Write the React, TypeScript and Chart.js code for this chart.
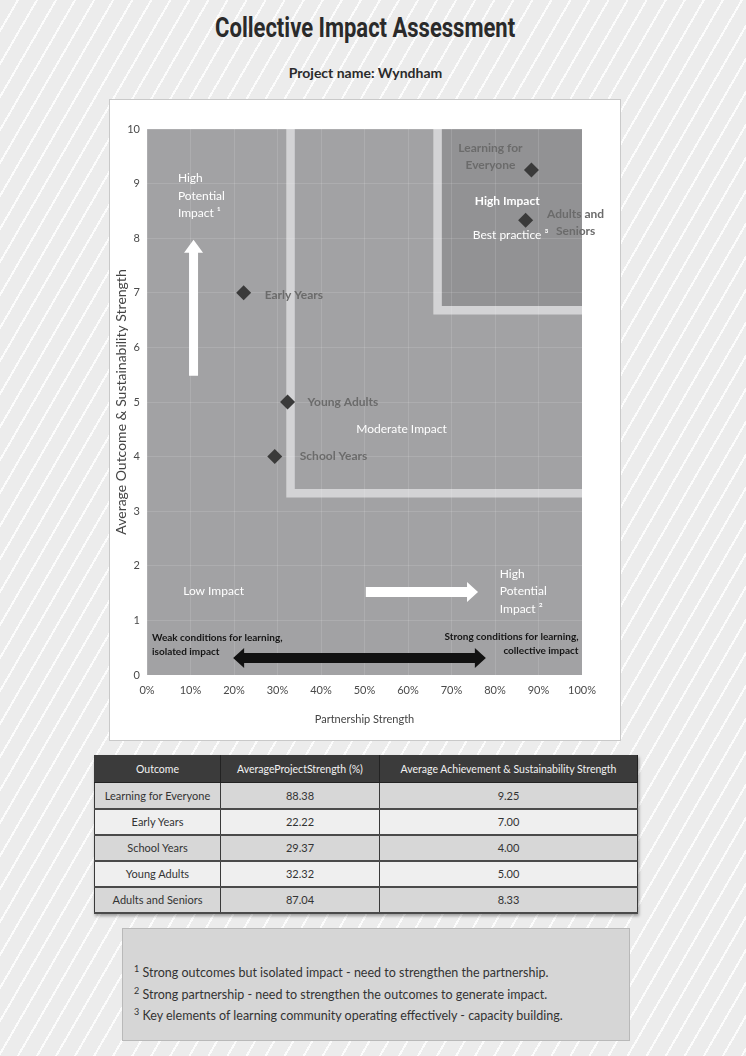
import React, { useEffect, useRef } from "react";
import { Chart, registerables } from "chart.js";

Chart.register(...registerables);

// ---------- data ----------
const OUTCOMES = ["Learning for Everyone", "Early Years", "School Years", "Young Adults", "Adults and Seniors"];
const PARTNERSHIP = [88.38, 22.22, 29.37, 32.32, 87.04];
const ACHIEVEMENT = [9.25, 7.0, 4.0, 5.0, 8.33];
const PARTNERSHIP_TEXT = ["88.38", "22.22", "29.37", "32.32", "87.04"];
const ACHIEVEMENT_TEXT = ["9.25", "7.00", "4.00", "5.00", "8.33"];
const X_TICK_LABELS = ["0%", "10%", "20%", "30%", "40%", "50%", "60%", "70%", "80%", "90%", "100%"];
const Y_TICK_LABELS = ["0", "1", "2", "3", "4", "5", "6", "7", "8", "9", "10"];
const TABLE_HEADERS = ["Outcome", "AverageProjectStrength (%)", "Average Achievement & Sustainability Strength"];
const FOOTNOTES = [
  "Strong outcomes but isolated impact - need to strengthen the partnership.",
  "Strong partnership - need to strengthen the outcomes to generate impact.",
  "Key elements of learning community operating effectively - capacity building.",
];

// zone thresholds (data units)
const MODERATE_X = 33.0;
const MODERATE_Y = 3.33;
const HIGH_X = 66.8;
const HIGH_Y = 6.68;

// ---------- layout / style ----------
const FONT = "Lato, 'Open Sans', sans-serif";
const PLOT_BG = "#a2a2a4";
const HIGH_BG = "#929294";
const BAND = "#d3d3d5";
const POINT_COLOR = "#3a3a3a";
const POINT_LABEL_COLOR = "#6b6b6b";

// point label placement: pixel offset from the point
const POINT_LABEL_LAYOUT = [
  { lines: ["Learning for", "Everyone"], dx: -41, dy: -22, align: "center" },
  { lines: ["Early Years"], dx: 21, dy: 2, align: "left" },
  { lines: ["School Years"], dx: 25, dy: 0, align: "left" },
  { lines: ["Young Adults"], dx: 20, dy: 0, align: "left" },
  { lines: ["Adults and", "Seniors"], dx: 50, dy: -6, align: "center" },
];

// zone texts: anchored in data units
const ZONE_TEXTS = [
  { lines: ["High", "Potential", "Impact \u00b9"], x: 7.1, y: 9.1, align: "left", weight: "normal", color: "#ffffff", size: 12, lh: 17.5 },
  { lines: ["High Impact"], x: 82.8, y: 8.68, align: "center", weight: "bold", color: "#ffffff", size: 12, lh: 17 },
  { lines: ["Best practice \u00b3"], x: 83.6, y: 8.06, align: "center", weight: "normal", color: "#ffffff", size: 12, lh: 17 },
  { lines: ["Moderate Impact"], x: 58.5, y: 4.5, align: "center", weight: "normal", color: "#ffffff", size: 12, lh: 17 },
  { lines: ["Low Impact"], x: 15.3, y: 1.54, align: "center", weight: "normal", color: "#ffffff", size: 12, lh: 17 },
  { lines: ["High", "Potential", "Impact \u00b2"], x: 81.1, y: 1.85, align: "left", weight: "normal", color: "#ffffff", size: 12, lh: 17.5 },
  { lines: ["Weak conditions for learning,", "isolated impact"], x: 1.15, y: 0.68, align: "left", weight: "bold", color: "#151515", size: 10, lh: 14 },
  { lines: ["Strong conditions for learning,", "collective impact"], x: 99.2, y: 0.7, align: "right", weight: "bold", color: "#151515", size: 10, lh: 14 },
];

// arrows: in data units
const ARROWS = [
  { x1: 10.7, y1: 5.48, x2: 10.7, y2: 7.97, shaft: 9, headW: 19, headL: 13, color: "#ffffff", both: false },
  { x1: 50.3, y1: 1.52, x2: 76.1, y2: 1.52, shaft: 10, headW: 20, headL: 11, color: "#ffffff", both: false },
  { x1: 19.8, y1: 0.31, x2: 77.9, y2: 0.31, shaft: 10, headW: 20, headL: 11, color: "#111111", both: true },
];

function drawArrow(ctx: CanvasRenderingContext2D, x1: number, y1: number, x2: number, y2: number,
  shaft: number, headW: number, headL: number, color: string, both: boolean) {
  const len = Math.hypot(x2 - x1, y2 - y1);
  const ang = Math.atan2(y2 - y1, x2 - x1);
  ctx.save();
  ctx.translate(x1, y1);
  ctx.rotate(ang);
  ctx.fillStyle = color;
  ctx.beginPath();
  const s = shaft / 2, h = headW / 2;
  const startX = both ? headL : 0;
  ctx.moveTo(startX, -s);
  ctx.lineTo(len - headL, -s);
  ctx.lineTo(len - headL, -h);
  ctx.lineTo(len, 0);
  ctx.lineTo(len - headL, h);
  ctx.lineTo(len - headL, s);
  ctx.lineTo(startX, s);
  if (both) {
    ctx.lineTo(headL, h);
    ctx.lineTo(0, 0);
    ctx.lineTo(headL, -h);
  }
  ctx.closePath();
  ctx.fill();
  ctx.restore();
}

const zonesPlugin = {
  id: "zones",
  beforeDraw(chart: any) {
    const { ctx, chartArea: a, scales } = chart;
    const x = scales.x, y = scales.y;
    ctx.save();
    ctx.fillStyle = PLOT_BG;
    ctx.fillRect(a.left, a.top, a.right - a.left, a.bottom - a.top);
    const mx = x.getPixelForValue(MODERATE_X);
    const my = y.getPixelForValue(MODERATE_Y);
    const hx = x.getPixelForValue(HIGH_X);
    const hy = y.getPixelForValue(HIGH_Y);
    ctx.fillStyle = HIGH_BG;
    ctx.fillRect(hx, a.top, a.right - hx, hy - a.top);
    ctx.strokeStyle = BAND;
    ctx.lineWidth = 8.5;
    ctx.lineJoin = "miter";
    ctx.lineCap = "butt";
    ctx.beginPath();
    ctx.moveTo(mx, a.top);
    ctx.lineTo(mx, my);
    ctx.lineTo(a.right, my);
    ctx.stroke();
    ctx.beginPath();
    ctx.moveTo(hx, a.top);
    ctx.lineTo(hx, hy);
    ctx.lineTo(a.right, hy);
    ctx.stroke();
    ctx.restore();
  },
  afterDraw(chart: any) {
    const { ctx, scales } = chart;
    const x = scales.x, y = scales.y;
    ctx.save();
    ARROWS.forEach((ar) => {
      drawArrow(ctx, x.getPixelForValue(ar.x1), y.getPixelForValue(ar.y1),
        x.getPixelForValue(ar.x2), y.getPixelForValue(ar.y2), ar.shaft, ar.headW, ar.headL, ar.color, ar.both);
    });
    ctx.textBaseline = "middle";
    ZONE_TEXTS.forEach((t) => {
      ctx.font = `${t.weight} ${t.size}px ${FONT}`;
      ctx.fillStyle = t.color;
      ctx.textAlign = t.align as CanvasTextAlign;
      const px = x.getPixelForValue(t.x);
      const py = y.getPixelForValue(t.y);
      t.lines.forEach((ln, i) => ctx.fillText(ln, px, py + i * t.lh));
    });
    ctx.font = `bold 12px ${FONT}`;
    ctx.fillStyle = POINT_LABEL_COLOR;
    const meta = chart.getDatasetMeta(0);
    meta.data.forEach((pt: any, i: number) => {
      const l = POINT_LABEL_LAYOUT[i];
      ctx.textAlign = l.align as CanvasTextAlign;
      l.lines.forEach((ln, j) => ctx.fillText(ln, pt.x + l.dx, pt.y + l.dy + j * 17));
    });
    ctx.restore();
  },
};

function ScatterChart() {
  const ref = useRef<HTMLCanvasElement | null>(null);
  useEffect(() => {
    if (!ref.current) return;
    const chart = new Chart(ref.current, {
      type: "scatter",
      data: {
        datasets: [
          {
            label: "Outcomes",
            data: PARTNERSHIP.map((v, i) => ({ x: v, y: ACHIEVEMENT[i] })),
            pointStyle: "rectRot",
            pointRadius: 7.5,
            pointHoverRadius: 7.5,
            backgroundColor: POINT_COLOR,
            borderColor: POINT_COLOR,
            borderWidth: 0,
          },
        ],
      },
      options: {
        responsive: false,
        animation: false,
        events: [],
        layout: { padding: { top: 29, right: 38, left: 0, bottom: 0 } },
        plugins: { legend: { display: false }, tooltip: { enabled: false } },
        scales: {
          x: {
            type: "linear",
            min: 0,
            max: 100,
            afterFit: (s: any) => { s.height = 65; },
            ticks: {
              stepSize: 10,
              padding: 9,
              color: "#4a4a4a",
              font: { family: FONT, size: 11 },
              callback: (_v: any, i: number) => X_TICK_LABELS[i],
            },
            grid: { color: "rgba(255,255,255,0.12)", drawTicks: false },
            border: { display: false },
            title: {
              display: true,
              text: "Partnership Strength",
              color: "#444",
              font: { family: FONT, size: 11 },
              padding: { top: 0, bottom: 14 },
            },
          },
          y: {
            type: "linear",
            min: 0,
            max: 10,
            afterFit: (s: any) => { s.width = 37; },
            ticks: {
              stepSize: 1,
              padding: 7,
              color: "#4a4a4a",
              font: { family: FONT, size: 11 },
              callback: (_v: any, i: number) => Y_TICK_LABELS[i],
            },
            grid: { color: "rgba(255,255,255,0.12)", drawTicks: false },
            border: { display: false },
            title: {
              display: true,
              text: "Average Outcome & Sustainability Strength",
              color: "#444",
              font: { family: FONT, size: 14 },
              padding: { top: 3, bottom: 0 },
            },
          },
        },
      },
      plugins: [zonesPlugin],
    } as any);
    return () => chart.destroy();
  }, []);
  return <canvas ref={ref} width={510} height={640} style={{ display: "block" }} />;
}

export default function App() {
  const rowBg = ["#d7d7d7", "#efefef"];
  const cell: React.CSSProperties = {
    borderRight: "1px solid #3a3a3a",
    borderBottom: "2px solid #4a4a4a",
    textAlign: "center",
    padding: 0,
    color: "#333",
    fontSize: 11,
    fontFamily: FONT,
  };
  return (
    <div
      style={{
        position: "absolute",
        left: 0,
        top: 0,
        width: 746,
        height: 1056,
        overflow: "hidden",
        background:
          "repeating-linear-gradient(120deg, #ececec 0px, #ececec 14.5px, #fcfcfc 14.5px, #fcfcfc 16.5px)",
        fontFamily: FONT,
      }}
    >
      <style>{`body{margin:0}`}</style>
      <div
        style={{
          position: "absolute",
          left: 0,
          width: 730,
          top: 10,
          textAlign: "center",
          lineHeight: "36px",
        }}
      >
        <span
          style={{
            display: "inline-block",
            transform: "scaleX(0.815)",
            fontFamily: "Roboto, sans-serif",
            fontWeight: "bold",
            fontSize: 27,
            color: "#2a2a2a",
            whiteSpace: "nowrap",
          }}
        >
          Collective Impact Assessment
        </span>
      </div>
      <div
        style={{
          position: "absolute",
          left: 0,
          width: 731,
          top: 64,
          textAlign: "center",
          fontWeight: "bold",
          fontSize: 14,
          color: "#2a2a2a",
          lineHeight: "18px",
        }}
      >
        Project name: Wyndham
      </div>
      <div
        style={{
          position: "absolute",
          left: 110,
          top: 100,
          width: 510,
          height: 640,
          background: "#ffffff",
          boxShadow: "0 0 0 1px #c9c9c9",
        }}
      >
        <ScatterChart />
      </div>
      <table
        style={{
          position: "absolute",
          left: 94,
          top: 755,
          width: 543,
          borderCollapse: "collapse",
          tableLayout: "fixed",
          boxShadow: "1px 2px 3px rgba(0,0,0,0.35)",
          border: "1px solid #3a3a3a",
        }}
      >
        <colgroup>
          <col style={{ width: 126 }} />
          <col style={{ width: 159 }} />
          <col style={{ width: 258 }} />
        </colgroup>
        <thead>
          <tr style={{ height: 27, background: "#3b3b3b" }}>
            {TABLE_HEADERS.map((h, i) => (
              <th
                key={i}
                style={{
                  ...cell,
                  color: "#f2f2f2",
                  fontWeight: "normal",
                  fontSize: 10.5,
                  borderRight: "1px solid #222",
                  borderBottom: "1px solid #222",
                  whiteSpace: "nowrap",
                }}
              >
                {h}
              </th>
            ))}
          </tr>
        </thead>
        <tbody>
          {OUTCOMES.map((o, i) => (
            <tr key={o} style={{ height: 26, background: rowBg[i % 2] }}>
              <td style={cell}>{o}</td>
              <td style={cell}>{PARTNERSHIP_TEXT[i]}</td>
              <td style={cell}>{ACHIEVEMENT_TEXT[i]}</td>
            </tr>
          ))}
        </tbody>
      </table>
      <div
        style={{
          position: "absolute",
          left: 122,
          top: 928,
          width: 508,
          height: 113,
          background: "#d6d6d6",
          border: "1px solid #b9b9b9",
          boxSizing: "border-box",
          paddingLeft: 11,
          paddingTop: 33,
          fontSize: 12.5,
          color: "#333",
          whiteSpace: "nowrap",
        }}
      >
        {FOOTNOTES.map((f, i) => (
          <div key={i} style={{ height: 21.5, lineHeight: "21.5px" }}>
            <span style={{ fontSize: 9, position: "relative", top: -5, lineHeight: 0 }}>{i + 1}</span> {f}
          </div>
        ))}
      </div>
    </div>
  );
}
